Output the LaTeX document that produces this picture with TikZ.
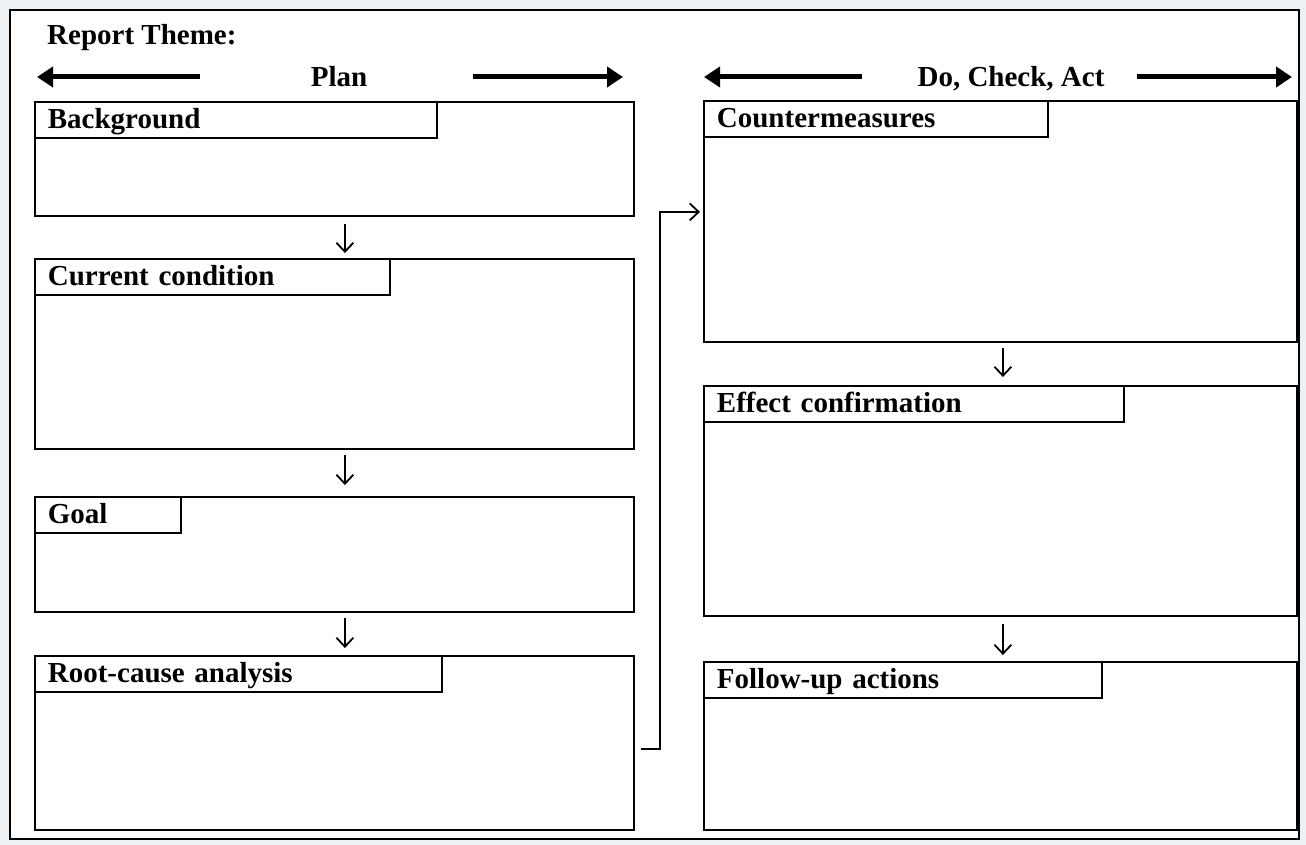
\documentclass[tikz,border=0pt]{standalone}
\usepackage{fontspec}
\setmainfont{Liberation Serif}
\usetikzlibrary{arrows.meta,calc}
\definecolor{pagegray}{HTML}{EEF1F4}
\tikzset{
  box/.style={draw=black, line width=1.8pt, rectangle, anchor=north west, inner sep=0pt},
  tab/.style={draw=black, line width=1.8pt, rectangle, anchor=north west, minimum height=36pt,
    inner xsep=13pt, inner ysep=0pt, align=left, text height=22pt, text depth=5pt,
    font=\fontsize{29}{32}\selectfont\bfseries},
  lbl/.style={inner sep=0pt, font=\fontsize{29}{32}\selectfont\bfseries},
  bigarr/.style={line width=5pt, -{Triangle[length=16pt,width=20pt]}},
  smallarr/.style={line width=1.8pt, -{Straight Barb[length=9pt,width=17pt]}},
}
\begin{document}
\begin{tikzpicture}[x=1pt,y=1pt]
\useasboundingbox (0,0) rectangle (1306,-845);
\fill[pagegray] (0,0) rectangle (1306,-845);
\draw[line width=2pt, fill=white] (10,-10) rectangle (1299,-839);

% header texts
\node[lbl, anchor=base west] (theme) at (47,-45) {Report Theme:};
\node[lbl, anchor=base] (plan) at (339,-87) {Plan};
\node[lbl, anchor=base] (dca) at (1011,-87) {Do, Check, Act};
\coordinate (pl1) at (200,-77);
\coordinate (pl2) at (37,-77);
\coordinate (pr1) at (473,-77);
\coordinate (pr2) at (623,-77);
\coordinate (dl1) at (862,-77);
\coordinate (dl2) at (704,-77);
\coordinate (dr1) at (1137,-77);
\coordinate (dr2) at (1292,-77);
\draw[bigarr] (pl1) -- (pl2);
\draw[bigarr] (pr1) -- (pr2);
\draw[bigarr] (dl1) -- (dl2);
\draw[bigarr] (dr1) -- (dr2);

% left column
\node[box, minimum width=599pt, minimum height=114pt] (bg) at (34,-101) {};
\node[tab, text width=376pt] (bgt) at (bg.north west) {Background};
\node[box, minimum width=599pt, minimum height=190pt] (cc) at (34,-258) {};
\node[tab, text width=329pt] (cct) at (cc.north west) {Current condition};
\node[box, minimum width=599pt, minimum height=115pt] (goal) at (34,-496) {};
\node[tab, text width=120pt] (goalt) at (goal.north west) {Goal};
\node[box, minimum width=599pt, minimum height=174pt] (rc) at (34,-655) {};
\node[tab, text width=381pt] (rct) at (rc.north west) {Root-cause analysis};

% right column
\node[box, minimum width=593pt, minimum height=241pt] (cm) at (703,-100) {};
\node[tab, text width=318pt] (cmt) at (cm.north west) {Countermeasures};
\node[box, minimum width=593pt, minimum height=230pt] (ec) at (703,-385) {};
\node[tab, text width=394pt] (ect) at (ec.north west) {Effect confirmation};
\node[box, minimum width=593pt, minimum height=168pt] (fu) at (703,-661) {};
\node[tab, text width=372pt] (fut) at (fu.north west) {Follow-up actions};

% flow arrows
\draw[smallarr, shorten <=7pt, shorten >=5pt] ([xshift=10.5pt]bg.south) -- ([xshift=10.5pt]cc.north);
\draw[smallarr, shorten <=5pt, shorten >=11pt] ([xshift=10.5pt]cc.south) -- ([xshift=10.5pt]goal.north);
\draw[smallarr, shorten <=5pt, shorten >=7pt] ([xshift=10.5pt]goal.south) -- ([xshift=10.5pt]rc.north);
\draw[smallarr, shorten <=5pt, shorten >=8pt] ([xshift=2.5pt]cm.south) -- ([xshift=2.5pt]ec.north);
\draw[smallarr, shorten <=7pt, shorten >=6pt] ([xshift=2.5pt]ec.south) -- ([xshift=2.5pt]fu.north);
\draw[smallarr, shorten >=3pt]
  ([xshift=6pt,yshift=-6pt]rc.east) -- ++(19,0) |- ([yshift=9.5pt]cm.west);
\end{tikzpicture}
\end{document}
